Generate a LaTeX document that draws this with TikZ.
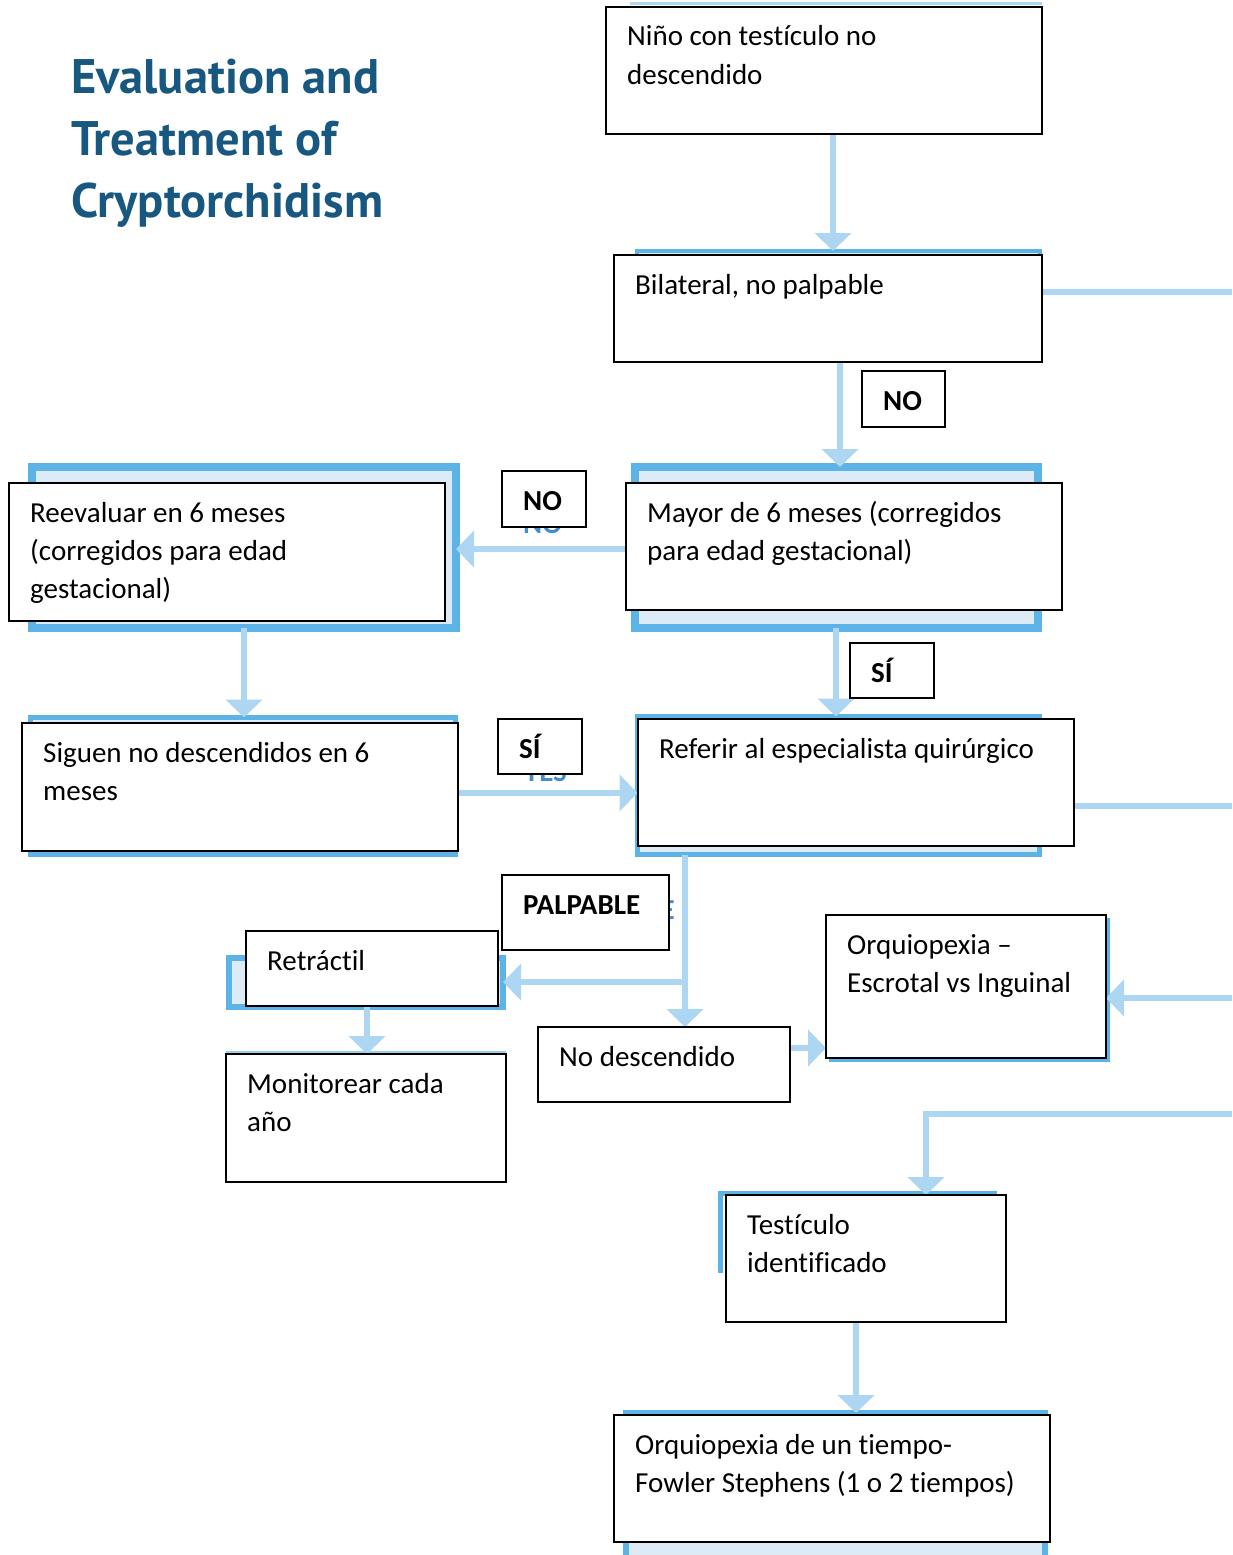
\documentclass[tikz,border=0pt]{standalone}
\usepackage{fontspec}
\setmainfont{Carlito}[Ligatures={NoCommon,NoContextual}]
\newfontfamily\titlefont{PT Sans}
\usetikzlibrary{arrows.meta}

\definecolor{frameblue}{RGB}{91,180,229}
\definecolor{framefill}{RGB}{221,235,247}
\definecolor{flowblue}{RGB}{172,214,242}
\definecolor{titleblue}{RGB}{24,88,128}
\definecolor{ghostblue}{RGB}{70,140,205}

\pgfdeclarelayer{frames}
\pgfdeclarelayer{flows}
\pgfsetlayers{frames,flows,main}

\tikzset{
  frame/.style={draw=frameblue, fill=framefill, inner sep=0pt, outer sep=0pt},
  box/.style={draw=black, line width=2.5pt, fill=white, inner sep=0pt, outer sep=0pt},
  txt/.style={anchor=base west, inner sep=0pt, font=\fontsize{29pt}{38.3pt}\selectfont},
  lbl/.style={txt, font=\fontsize{29pt}{38.3pt}\selectfont\bfseries},
  ghost/.style={lbl, text=ghostblue},
  flow/.style={draw=flowblue, line width=6pt, -{Triangle[width=36pt,length=18pt]}},
  feed/.style={draw=flowblue, line width=6pt},
}
% text of a box: first baseline 39pt below its top edge, 21pt in from its left edge
\newcommand\boxtext[3]{\node[txt] (#1) at ([shift={(21,39)}]#2.north west) {\parbox[t]{430pt}{#3}};}
\newcommand\lbltext[3]{\node[lbl] (#1) at ([shift={(21,39)}]#2.north west) {#3};}

\begin{document}
\begin{tikzpicture}[x=1pt,y=-1pt]
\useasboundingbox (0,0) rectangle (1232,1555);

% title
\node[anchor=base west, inner sep=0pt, text=titleblue,
      font=\titlefont\bfseries\fontsize{48.5pt}{62pt}\selectfont] (title) at (71,93)
  {\parbox[t]{500pt}{Evaluation and\\Treatment of\\Cryptorchidism}};

% decision boxes
\node[box, minimum width=436pt, minimum height=127pt] (A) at (824,70.5) {};
\boxtext{At}{A}{Niño con testículo no\\descendido}
\node[box, minimum width=428pt, minimum height=107pt] (B) at (828,308.5) {};
\boxtext{Bt}{B}{Bilateral, no palpable}
\node[box, minimum width=436pt, minimum height=127pt] (C) at (844,546.5) {};
\boxtext{Ct}{C}{Mayor de 6 meses (corregidos\\para edad gestacional)}
\node[box, minimum width=436pt, minimum height=138pt] (D) at (227,552) {};
\boxtext{Dt}{D}{Reevaluar en 6 meses\\(corregidos para edad\\gestacional)}
\node[box, minimum width=436pt, minimum height=128pt] (E) at (240,787) {};
\boxtext{Et}{E}{Siguen no descendidos en 6\\meses}
\node[box, minimum width=436pt, minimum height=127pt] (F) at (856,782.5) {};
\boxtext{Ft}{F}{Referir al especialista quirúrgico}
\node[box, minimum width=252pt, minimum height=75pt] (G) at (372,968.5) {};
\boxtext{Gt}{G}{Retráctil}
\node[box, minimum width=280pt, minimum height=128pt] (H) at (366,1118) {};
\boxtext{Ht}{H}{Monitorear cada\\año}
\node[box, minimum width=252pt, minimum height=75pt] (I) at (664,1064.5) {};
\boxtext{It}{I}{No descendido}
\node[box, minimum width=280pt, minimum height=143pt] (J) at (966,986.5) {};
\boxtext{Jt}{J}{Orquiopexia –\\Escrotal vs Inguinal}
\node[box, minimum width=280pt, minimum height=127pt] (K) at (866,1258.5) {};
\boxtext{Kt}{K}{Testículo\\identificado}
\node[box, minimum width=436pt, minimum height=127pt] (L) at (832,1478.5) {};
\boxtext{Lt}{L}{Orquiopexia de un tiempo-\\Fowler Stephens (1 o 2 tiempos)}

% branch labels
\node[box, minimum width=83pt, minimum height=56pt] (no1) at (903.5,399) {};
\lbltext{no1t}{no1}{NO}
\node[box, minimum width=84pt, minimum height=56pt] (no2) at (544,499) {};
\lbltext{no2t}{no2}{NO}
\node[box, minimum width=84pt, minimum height=55pt] (si1) at (892,670.5) {};
\lbltext{si1t}{si1}{SÍ}
\node[box, minimum width=84pt, minimum height=55pt] (si2) at (540,746.5) {};
\lbltext{si2t}{si2}{SÍ}
\node[box, minimum width=167pt, minimum height=75pt] (pal) at (585.5,912.5) {};
\lbltext{palt}{pal}{PALPABLE}

% blue frames behind the boxes
\begin{pgfonlayer}{frames}
\draw[flowblue, line width=3pt] (630,4) -- (1042,4);
\node[frame, line width=4pt, minimum width=403pt, minimum height=109pt] (Bf) at (838.5,305.5) {};
\node[frame, line width=8pt, minimum width=403pt, minimum height=161pt] (Cf) at (836.5,547.5) {};
\node[frame, line width=8pt, minimum width=424pt, minimum height=161pt] (Df) at (244,547.5) {};
\node[frame, line width=5pt, minimum width=425pt, minimum height=137pt] (Ef) at (243,786) {};
\node[frame, line width=5pt, minimum width=402pt, minimum height=138pt] (Ff) at (838.5,785.5) {};
\node[frame, line width=6pt, minimum width=274pt, minimum height=49pt] (Gf) at (366,982.5) {};
\draw[flowblue!80!frameblue, line width=3pt] (227.5,1110) |- (504.5,1052.5) -- (504.5,1110);
\draw[frameblue, line width=3pt] (829,1060.5) -| (1108.5,918);
\draw[frameblue, line width=5pt] (720.5,1273) |- (997,1193.5);
\node[frame, line width=6pt, minimum width=419pt, minimum height=160pt] (Lf) at (835.5,1493) {};
\end{pgfonlayer}

% connectors
\coordinate (cAB) at (833,0);
\coordinate (cBC) at (840,0);
\coordinate (cCD) at (0,549);
\coordinate (cDE) at (244,0);
\coordinate (cEF) at (0,793);
\coordinate (cCF) at (836,0);
\coordinate (cFI) at (685,0);
\coordinate (cFG) at (0,982);
\coordinate (cGH) at (367,0);
\coordinate (cIJ) at (0,1048);
\coordinate (cKL) at (856,0);
\coordinate (inJ) at (1232,998);
\coordinate (inK) at (1232,1114);
\coordinate (bendK) at (926,1114);
\coordinate (outB) at (1232,292);
\coordinate (outF) at (1232,806);

\begin{pgfonlayer}{flows}
\draw[flow] (A.south -| cAB) -- (Bf.north -| cAB);
\draw[flow] (B.south -| cBC) -- (Cf.north -| cBC);
\draw[flow] (C.west |- cCD) -- (Df.east |- cCD);
\draw[flow] (Df.south -| cDE) -- (Ef.north -| cDE);
\draw[flow] (E.east |- cEF) -- (Ff.west |- cEF);
\draw[flow] (Cf.south -| cCF) -- (Ff.north -| cCF);
\draw[flow] (Ff.south -| cFI) -- (I.north -| cFI);
\draw[flow] (cFG -| cFI) -- (Gf.east |- cFG);
\draw[flow] (Gf.south -| cGH) -- (H.north -| cGH);
\draw[flow] (I.east |- cIJ) -- (J.west |- cIJ);
\draw[flow] (inJ) -- (J.east |- inJ);
\draw[flow] (inK) -- (bendK) -- (K.north -| bendK);
\draw[flow] (K.south -| cKL) -- (Lf.north -| cKL);
\draw[feed] (B.east |- outB) -- (outB);
\draw[feed] (F.east |- outF) -- (outF);
% older label text, only its edges showing past the label boxes
\begin{scope}
\clip (500,528) rectangle (600,540);
\node[ghost] (g1) at (523,533) {NO};
\end{scope}
\begin{scope}
\clip (500,775) rectangle (600,790);
\node[ghost] (g2) at (524,781) {YES};
\end{scope}
\begin{scope}
\clip (670.5,880) rectangle (690,930);
\node[ghost, anchor=base east] (g3) at (675,919) {PALPABLE};
\end{scope}
\end{pgfonlayer}
\end{tikzpicture}
\end{document}
